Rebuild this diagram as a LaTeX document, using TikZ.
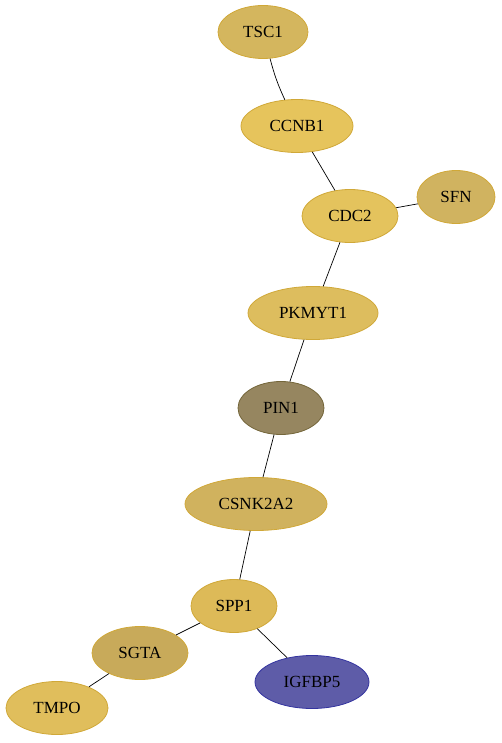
\documentclass[tikz,border=0pt]{standalone}
\usepackage{fontspec}
\setmainfont{Liberation Serif}
\usetikzlibrary{shapes.geometric}
\begin{document}
\begin{tikzpicture}[x=1pt,y=-1pt,
  gene/.style={ellipse, draw, line width=0.8pt, inner sep=0pt, minimum height=53pt,
    font=\fontsize{17}{17}\selectfont, text=black},
  edge/.style={draw=black, line width=0.7pt}]
\useasboundingbox (0,0) rectangle (501,743);
\definecolor{cTSC}{HTML}{D4B65E}
\definecolor{cCCNB}{HTML}{E6C45C}
\definecolor{cCDC}{HTML}{E4C35D}
\definecolor{cSFN}{HTML}{D0B360}
\definecolor{cPKM}{HTML}{DDBD5E}
\definecolor{cPIN}{HTML}{968660}
\definecolor{cCSN}{HTML}{D0B25E}
\definecolor{cSPP}{HTML}{DDBA58}
\definecolor{cSGT}{HTML}{C8AA5A}
\definecolor{cIGF}{HTML}{5E5CA8}
\definecolor{cTMP}{HTML}{E0BE5C}
\definecolor{bGold}{HTML}{D0A838}
\definecolor{bPIN}{HTML}{74663A}
\definecolor{bIGF}{HTML}{3434A0}
\node[gene, fill=cTSC, draw=bGold, minimum width=90pt] (tsc1) at (263,32) {TSC1};
\node[gene, fill=cCCNB, draw=bGold, minimum width=112pt] (ccnb1) at (297,126) {CCNB1};
\node[gene, fill=cCDC, draw=bGold, minimum width=96pt] (cdc2) at (350,216) {CDC2};
\node[gene, fill=cSFN, draw=bGold, minimum width=78pt] (sfn) at (456,197) {SFN};
\node[gene, fill=cPKM, draw=bGold, minimum width=130pt] (pkmyt1) at (313,313) {PKMYT1};
\node[gene, fill=cPIN, draw=bPIN, minimum width=86pt] (pin1) at (281,408) {PIN1};
\node[gene, fill=cCSN, draw=bGold, minimum width=142pt] (csnk) at (256,504) {CSNK2A2};
\node[gene, fill=cSPP, draw=bGold, minimum width=86pt] (spp1) at (234,606) {SPP1};
\node[gene, fill=cSGT, draw=bGold, minimum width=96pt] (sgta) at (140,653) {SGTA};
\node[gene, fill=cIGF, draw=bIGF, minimum width=114pt] (igfbp5) at (312,682) {IGFBP5};
\node[gene, fill=cTMP, draw=bGold, minimum width=102pt] (tmpo) at (57,708) {TMPO};
\path[edge] (tsc1) to[bend right=5] (ccnb1);
\path[edge] (ccnb1) -- (cdc2);
\path[edge] (cdc2) -- (sfn);
\path[edge] (cdc2) -- (pkmyt1);
\path[edge] (pkmyt1) -- (pin1);
\path[edge] (pin1) -- (csnk);
\path[edge] (csnk) -- (spp1);
\path[edge] (spp1) -- (sgta);
\path[edge] (spp1) -- (igfbp5);
\path[edge] (sgta) -- (tmpo);
\end{tikzpicture}
\end{document}
